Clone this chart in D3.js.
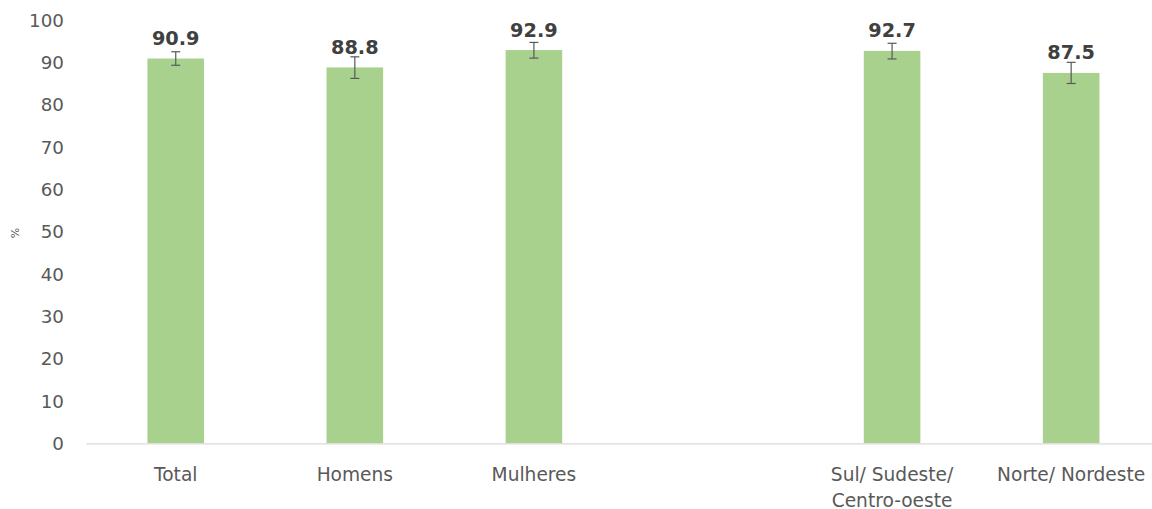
<!DOCTYPE html>
<html>
<head>
<meta charset="utf-8">
<script src="https://cdn.jsdelivr.net/npm/d3@7"></script>
<style>
  body { margin: 0; background: #fff; }
  svg text { font-family: "DejaVu Sans", sans-serif; }
</style>
</head>
<body>
<svg id="chart"></svg>
<script>
// categories (empty slot is the gap between sex and region groups)
var categories = ["Total", "Homens", "Mulheres", "", "Sul/ Sudeste/|Centro-oeste", "Norte/ Nordeste"];
var values = [90.9, 88.8, 92.9, null, 92.7, 87.5];
var errLow = [89.3, 86.2, 91.0, null, 90.8, 85.0];
var errHigh = [92.5, 91.3, 94.7, null, 94.5, 90.0];
var yTicks = [0, 10, 20, 30, 40, 50, 60, 70, 80, 90, 100];

var width = 1152;
var height = 509;

var svg = d3.select("#chart")
    .attr("width", width)
    .attr("height", height);

var x = d3.scaleBand()
    .domain(d3.range(categories.length))
    .range([86.2, 1160.7])
    .paddingInner(0.684)
    .paddingOuter(0.342);

var y = d3.scaleLinear()
    .domain([0, 100])
    .range([443.3, 20]);

// y tick labels
svg.append("g")
    .selectAll("text")
    .data(yTicks)
    .enter().append("text")
    .attr("x", 64)
    .attr("y", function (d) { return y(d); })
    .attr("dy", "0.36em")
    .attr("text-anchor", "end")
    .style("font-size", "18.3px")
    .style("fill", "#595959")
    .text(function (d) { return d; });

// y axis title
svg.append("text")
    .attr("transform", "translate(19,233) rotate(-90)")
    .attr("text-anchor", "middle")
    .style("font-size", "11px")
    .style("fill", "#595959")
    .text("%");

var data = categories.map(function (c, i) {
    return { cat: c, i: i, value: values[i], lo: errLow[i], hi: errHigh[i] };
});
var bars = data.filter(function (d) { return d.value != null; });

// bars
svg.append("g")
    .selectAll("rect")
    .data(bars)
    .enter().append("rect")
    .attr("x", function (d) { return x(d.i); })
    .attr("y", function (d) { return y(d.value); })
    .attr("width", x.bandwidth())
    .attr("height", function (d) { return y(0) - y(d.value); })
    .style("fill", "#A9D18E");

// baseline
svg.append("line")
    .attr("x1", 86.5)
    .attr("x2", 1160)
    .attr("y1", y(0) + 0.5)
    .attr("y2", y(0) + 0.5)
    .style("stroke", "#d9d9d9")
    .style("stroke-width", 1.3);

// error bars
var err = svg.append("g")
    .selectAll("g")
    .data(bars)
    .enter().append("g")
    .style("stroke", "#595959")
    .style("stroke-width", 1.2);

err.append("line")
    .attr("x1", function (d) { return x(d.i) + x.bandwidth() / 2; })
    .attr("x2", function (d) { return x(d.i) + x.bandwidth() / 2; })
    .attr("y1", function (d) { return y(d.lo); })
    .attr("y2", function (d) { return y(d.hi); });

["lo", "hi"].forEach(function (k) {
    err.append("line")
        .attr("x1", function (d) { return x(d.i) + x.bandwidth() / 2 - 4.5; })
        .attr("x2", function (d) { return x(d.i) + x.bandwidth() / 2 + 4.5; })
        .attr("y1", function (d) { return y(d[k]); })
        .attr("y2", function (d) { return y(d[k]); });
});

// value labels
svg.append("g")
    .selectAll("text")
    .data(bars)
    .enter().append("text")
    .attr("x", function (d) { return x(d.i) + x.bandwidth() / 2; })
    .attr("y", function (d) { return y(d.value) - 13.5; })
    .attr("text-anchor", "middle")
    .style("font-size", "19.3px")
    .style("font-weight", "bold")
    .style("fill", "#404040")
    .text(function (d) { return d.value.toFixed(1); });

// category labels
var cat = svg.append("g")
    .selectAll("text")
    .data(data)
    .enter().append("text")
    .attr("x", function (d) { return x(d.i) + x.bandwidth() / 2; })
    .attr("y", 480.5)
    .attr("text-anchor", "middle")
    .style("font-size", "18.6px")
    .style("fill", "#595959");

cat.selectAll("tspan")
    .data(function (d) { return d.cat.split("|"); })
    .enter().append("tspan")
    .attr("x", function () { var p = this.parentNode.__data__; return x(p.i) + x.bandwidth() / 2; })
    .attr("dy", function (d, j) { return j === 0 ? 0 : 26; })
    .text(function (d) { return d; });
</script>
</body>
</html>
